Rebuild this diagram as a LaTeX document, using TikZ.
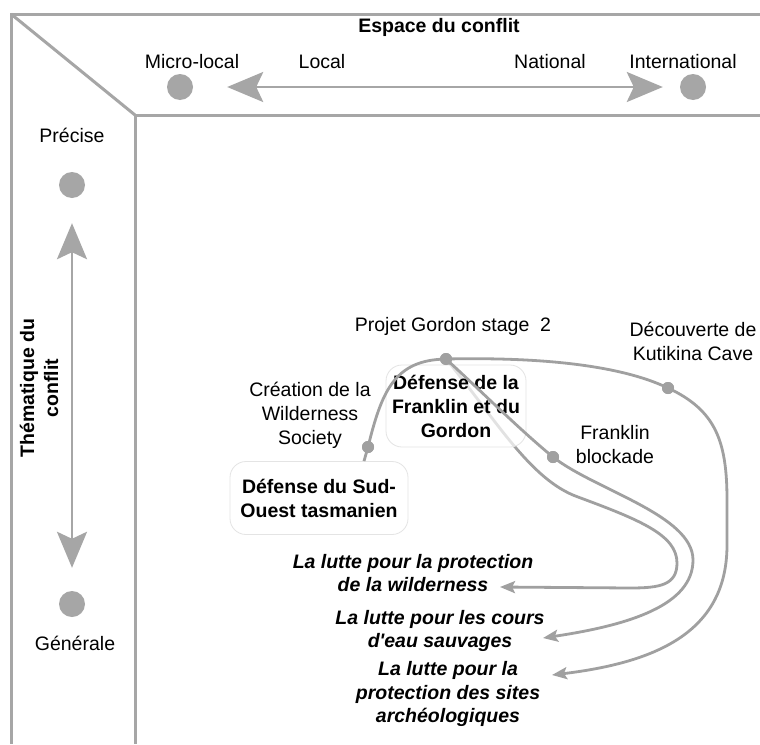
\documentclass[tikz,border=0pt]{standalone}
\usepackage{fontspec}
\setmainfont{Liberation Sans}
\usetikzlibrary{arrows.meta}
\definecolor{framecol}{HTML}{A6A6A6}
\definecolor{curvecol}{HTML}{A0A0A0}
\definecolor{boxline}{HTML}{E4E4E4}
\begin{document}
\begin{tikzpicture}[x=1pt,y=-1pt,
  lbl/.style={font=\fontsize{19.5}{24}\selectfont, align=center, inner sep=0pt},
  ttl/.style={lbl, font=\fontsize{19.5}{24}\selectfont\bfseries},
  goal/.style={lbl, font=\fontsize{19.5}{23.5}\selectfont\bfseries\itshape},
  axdot/.style={circle, fill=framecol, minimum size=26pt, inner sep=0pt},
  evdot/.style={circle, fill=curvecol, minimum size=12pt, inner sep=0pt},
  framel/.style={draw=framecol, line width=3pt},
  axarrow/.style={draw=framecol, line width=2.5pt, {Stealth[length=36pt,width=30pt,inset=7pt]}-{Stealth[length=36pt,width=30pt,inset=7pt]}},
  flow/.style={draw=curvecol, line width=2.8pt},
  flowarrow/.style={flow, -{Stealth[length=15pt,width=12pt,inset=3pt]}},
  phase/.style={draw=boxline, line width=0.8pt, rounded corners=16pt, fill=white, fill opacity=0.7, text opacity=1, font=\fontsize{19.5}{24}\selectfont\bfseries, align=center, inner sep=0pt}
]
\useasboundingbox (0,0) rectangle (760,744);
\fill[white] (0,0) rectangle (760,744);

% frame
\draw[framel] (760,14) -- (11,14) -- (11,744);
\draw[framel] (760,115) -- (135,115) -- (135,744);
\draw[framel] (11,14) -- (135,115);

% horizontal axis
\node[ttl] (espace) at (439,27) {Espace du conflit};
\node[lbl] (microlbl) at (192,62) {Micro-local};
\node[lbl] (locallbl) at (322,62) {Local};
\node[lbl] (natlbl) at (550,62) {National};
\node[lbl] (intlbl) at (683,62) {International};
\node[axdot] (ml) at (180,87) {};
\node[axdot] (intl) at (693,87) {};
\draw[axarrow, shorten <=34pt, shorten >=17pt] (ml) -- (intl);

% vertical axis
\node[lbl] (prlbl) at (72,135) {Précise};
\node[axdot] (pr) at (72,185) {};
\node[axdot] (gen) at (72,604) {};
\node[lbl] (genlbl) at (75,643) {Générale};
\draw[axarrow, shorten <=25pt, shorten >=23pt] (pr) -- (gen);
\node[ttl, rotate=90] (them) at (39,388) {Thématique du\\conflit};

% event positions
\coordinate (wildend) at (500,587);
\coordinate (coursend) at (543,638);
\coordinate (archend) at (552,675);
\node[evdot] (cre) at (368,447) {};
\node[evdot] (gor) at (446,359) {};
\node[evdot] (kut) at (668,388) {};
\node[evdot] (blk) at (553,457) {};

% inner curve (behind the box)
\draw[flowarrow] (gor.center) .. controls (495,418) and (530,480) .. (578,497)
  .. controls (640,520) and (677,535) .. (677,563)
  .. controls (677,585) and (660,588) .. (630,588) -- (wildend);

% boxes
\node[phase, minimum width=178pt, minimum height=73pt] (sud) at (319,498) {Défense du Sud-\\Ouest tasmanien};
\node[phase, minimum width=140pt, minimum height=82pt] (fg) at (456,406) {Défense de la\\Franklin et du\\Gordon};

% other curves
\draw[flow] ([xshift=45pt]sud.north) -- (cre.center) .. controls (382,390) and (395,360) .. (gor.center);
\draw[flowarrow] (gor.center) .. controls (540,357) and (620,365) .. (kut.center)
  .. controls (715,410) and (727,440) .. (727,500) -- (727,545)
  .. controls (727,630) and (660,662) .. (archend);
\draw[flowarrow] (gor.center) .. controls (480,390) and (520,430) .. (blk.center)
  .. controls (595,490) and (693,515) .. (693,560)
  .. controls (693,605) and (630,625) .. (coursend);

% dots on top
\node[evdot] at (cre) {};
\node[evdot] at (gor) {};
\node[evdot] at (kut) {};
\node[evdot] at (blk) {};

% event labels
\node[lbl] (gorlbl) at (453,326) {Projet Gordon stage\ \ 2};
\node[lbl] (crelbl) at (310,415) {Création de la\\Wilderness\\Society};
\node[lbl] (kutlbl) at (693,341) {Découverte de\\Kutikina Cave};
\node[lbl] (blklbl) at (615,445) {Franklin\\blockade};

% goals
\node[goal] (wild) at (413,573) {La lutte pour la protection\\de la wilderness};
\node[goal] (cours) at (440,631) {La lutte pour les cours\\d\textquotesingle eau sauvages};
\node[goal] (arch) at (448,694) {La lutte pour la\\protection des sites\\archéologiques};
\end{tikzpicture}
\end{document}
